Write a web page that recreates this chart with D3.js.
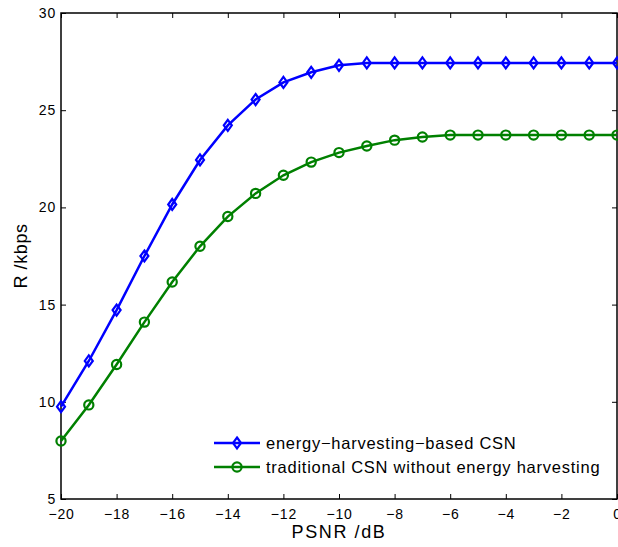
<!DOCTYPE html>
<html><head><meta charset="utf-8">
<script src="https://cdn.jsdelivr.net/npm/d3@7"></script>
<style>body{margin:0;background:#fff}svg{display:block}text{font-family:"Liberation Sans",Arial,sans-serif}</style>
</head><body>
<svg id="c" width="618" height="547"></svg>
<script>
const psnr = [-20,-19,-18,-17,-16,-15,-14,-13,-12,-11,-10,-9,-8,-7,-6,-5,-4,-3,-2,-1,0];
const rateEH = [9.75,12.1,14.72,17.5,20.15,22.44,24.22,25.55,26.43,26.95,27.31,27.43,27.43,27.43,27.43,27.43,27.43,27.43,27.43,27.43,27.43];
const rateTrad = [7.98,9.84,11.92,14.1,16.16,18.0,19.53,20.72,21.65,22.33,22.82,23.16,23.46,23.62,23.72,23.72,23.72,23.72,23.72,23.72,23.72];
const xTicks = [-20,-18,-16,-14,-12,-10,-8,-6,-4,-2,0];
const yTicks = [5,10,15,20,25,30];
const seriesNames = ["energy\u2212harvesting\u2212based CSN","traditional CSN without energy harvesting"];

const L=61,R=617,T=13,B=499;
const svg=d3.select("#c");
const x=d3.scaleLinear().domain([-20,0]).range([L,R]);
const y=d3.scaleLinear().domain([5,30]).range([B,T]);
const fmt=d=>String(d).replace("-","\u2212");

const axB=d3.axisBottom(x).tickValues(xTicks).tickSize(-5).tickPadding(10).tickFormat(fmt);
const axT=d3.axisTop(x).tickValues(xTicks).tickSize(-5).tickFormat("");
const axL=d3.axisLeft(y).tickValues(yTicks).tickSize(-5).tickPadding(5).tickFormat(fmt);
const axR=d3.axisRight(y).tickValues(yTicks).tickSize(-5).tickFormat("");
function style(g){g.select(".domain").remove();g.selectAll("line").attr("stroke","#000");g.selectAll("text").attr("font-size",14).attr("letter-spacing",0.8).attr("fill","#000");}
svg.append("g").attr("transform",`translate(0,${B})`).call(axB).call(style);
svg.append("g").attr("transform",`translate(0,${T})`).call(axT).call(style);
svg.append("g").attr("transform",`translate(${L},0)`).call(axL).call(style);
svg.append("g").attr("transform",`translate(${R},0)`).call(axR).call(style);
svg.append("rect").attr("x",L).attr("y",T).attr("width",R-L).attr("height",B-T).attr("fill","none").attr("stroke","#000").attr("stroke-width",1.5);

const line=d3.line().x(d=>x(d[0])).y(d=>y(d[1]));
const diamond="M0,-5.5L4,0L0,5.5L-4,0Z";
function drawSeries(vals,color,marker){
  const pts=psnr.map((p,i)=>[p,vals[i]]);
  svg.append("path").datum(pts).attr("d",line).attr("fill","none").attr("stroke",color).attr("stroke-width",2.5);
  const g=svg.append("g");
  pts.forEach(p=>{
    if(marker==="d") g.append("path").attr("d",diamond).attr("transform",`translate(${x(p[0])},${y(p[1])})`).attr("fill","none").attr("stroke",color).attr("stroke-width",2.2);
    else g.append("circle").attr("cx",x(p[0])).attr("cy",y(p[1])).attr("r",4.6).attr("fill","none").attr("stroke",color).attr("stroke-width",2.2);
  });
}
drawSeries(rateTrad,"#008000","o");
drawSeries(rateEH,"#0000ff","d");

// legend
const lg=svg.append("g");
[[0,"#0000ff","d"],[1,"#008000","o"]].forEach(([i,c,m])=>{
  const yy=443+i*24;
  lg.append("line").attr("x1",214).attr("x2",260).attr("y1",yy).attr("y2",yy).attr("stroke",c).attr("stroke-width",2.5);
  if(m==="d") lg.append("path").attr("d",diamond).attr("transform",`translate(237,${yy})`).attr("fill","none").attr("stroke",c).attr("stroke-width",2.2);
  else lg.append("circle").attr("cx",237).attr("cy",yy).attr("r",4.6).attr("fill","none").attr("stroke",c).attr("stroke-width",2.2);
  lg.append("text").attr("x",266).attr("y",yy+6).attr("font-size",16.5).attr("letter-spacing",0.75).text(seriesNames[i]);
});

svg.append("text").attr("x",(L+R)/2).attr("y",538).attr("text-anchor","middle").attr("font-size",18).attr("letter-spacing",1.6).text("PSNR /dB");
svg.append("text").attr("transform",`translate(27,${(T+B)/2}) rotate(-90)`).attr("text-anchor","middle").attr("font-size",18).attr("letter-spacing",0.6).text("R /kbps");
</script>
</body></html>
